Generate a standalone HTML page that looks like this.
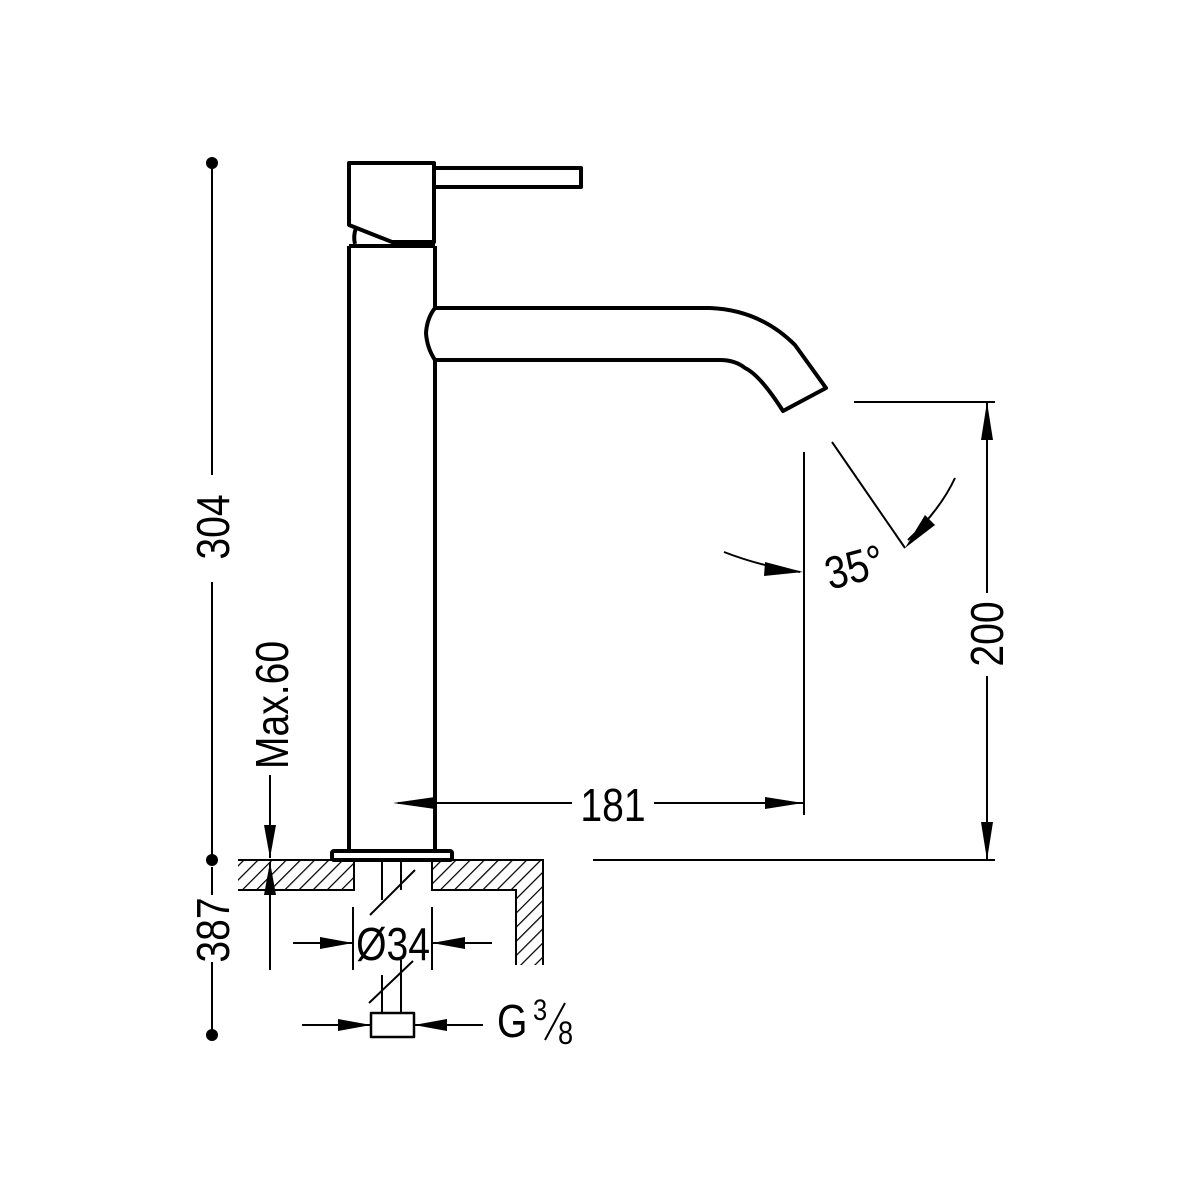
<!DOCTYPE html>
<html><head><meta charset="utf-8"><style>
html,body{margin:0;padding:0;background:#fff}
svg{display:block}
text{font-family:"Liberation Sans",sans-serif;fill:#000}
</style></head><body>
<svg width="1200" height="1200" viewBox="0 0 1200 1200" xmlns="http://www.w3.org/2000/svg">
<defs>
<pattern id="h" patternUnits="userSpaceOnUse" width="10" height="10" patternTransform="rotate(45)">
<line x1="0" y1="0" x2="0" y2="10" stroke="#000" stroke-width="2.5"/>
</pattern>
</defs>
<rect width="1200" height="1200" fill="#fff"/>
<g fill="none" stroke="#000" stroke-width="4" stroke-linejoin="round">
<path d="M434 163 H349 V225 L392 242 H434 Z"/>
<path d="M356 228 Q353 236 355 244"/>
<line x1="392" y1="243" x2="435" y2="243" stroke-width="6"/>
<path d="M434 168 H581 V187 H434"/>
<path d="M349 246 V851 M435 246 V308 M435 360 V851"/>
<line x1="349" y1="246" x2="435" y2="246"/>
<path d="M435 308 H710 Q760 310 795 345 L826 388 L783 411 Q760 375 745 368 Q735 360 720 360 H435"/>
<path d="M435 308 Q427 318 426 333 Q427 348 435 360"/>
<rect x="332" y="851" width="120" height="9" rx="2"/>
<rect x="371" y="1013" width="43" height="24" stroke-width="2.5"/>
</g>
<path d="M238 860 H354 V890 H238 Z" fill="url(#h)" stroke="none"/>
<path d="M432 860 H543 V965 H516 V890 H432 Z" fill="url(#h)" stroke="none"/>
<g fill="none" stroke="#000" stroke-width="2">
<path d="M238 860 H354 V890 H238"/>
<path d="M432 860 H543 V965 M516 965 V890 H432 V860"/>
<path d="M382 860 V900 M401 860 V890 M370 915 L415 870"/>
<path d="M382 975 V1013 M401 960 V1013 M369 1003 L413 961"/>
<path d="M353 907 V970 M432 907 V970"/>
<path d="M293 943 H353 M432 943 H492"/>
<path d="M302 1025 H371 M414 1025 H483"/>
<path d="M212 163 V475 M212 582 V855 M212 867 V895 M212 962 V1030"/>
<path d="M270 775 V858 M270 970 V862"/>
<path d="M398 803 H572 M654 803 H803 M804 452 V815"/>
<path d="M854 402 H995 M593 860 H995 M987 402 V593 M987 676 V860"/>
<path d="M832 442 L905 548"/>
<path d="M724 552 Q760 566 800 572"/>
<path d="M955 478 Q940 510 908 540"/>
</g>
<g fill="#000">
<circle cx="212" cy="163" r="6"/><circle cx="212" cy="860" r="6"/><circle cx="212" cy="1035" r="6"/>
<polygon points="353,943 320,937 320,949"/>
<polygon points="432,943 465,937 465,949"/>
<polygon points="371,1025 338,1019 338,1031"/>
<polygon points="414,1025 447,1019 447,1031"/>
<polygon points="270,858 264,825 276,825"/>
<polygon points="270,862 264,895 276,895"/>
<polygon points="393,803 435,797 435,809"/>
<polygon points="803,803 765,797 765,809"/>
<polygon points="987,402 981,440 993,440"/>
<polygon points="987,860 981,822 993,822"/>
<polygon points="803,572 765,562 764,576"/>
<polygon points="905,548 925,515 935,525"/>
</g>
<g font-size="46">
<text transform="translate(229,527) rotate(-90) scale(0.85,1)" text-anchor="middle">304</text>
<text transform="translate(229,930) rotate(-90) scale(0.85,1)" text-anchor="middle">387</text>
<text transform="translate(288,705) rotate(-90) scale(0.85,1)" text-anchor="middle">Max.60</text>
<text transform="translate(1003,634) rotate(-90) scale(0.85,1)" text-anchor="middle">200</text>
<text transform="translate(613,821) scale(0.85,1)" text-anchor="middle">181</text>
<text transform="translate(393,960) scale(0.85,1)" text-anchor="middle">Ø34</text>
<text transform="translate(497,1037) scale(0.85,1)">G</text>
<text transform="translate(830,590) rotate(-15) scale(0.85,1)">35°</text>
</g>
<text transform="translate(533,1020) scale(0.85,1)" font-size="30">3</text>
<line x1="545" y1="1040" x2="565" y2="1003" stroke="#000" stroke-width="2"/>
<text transform="translate(558,1044) scale(0.85,1)" font-size="32">8</text>
</svg>
</body></html>
